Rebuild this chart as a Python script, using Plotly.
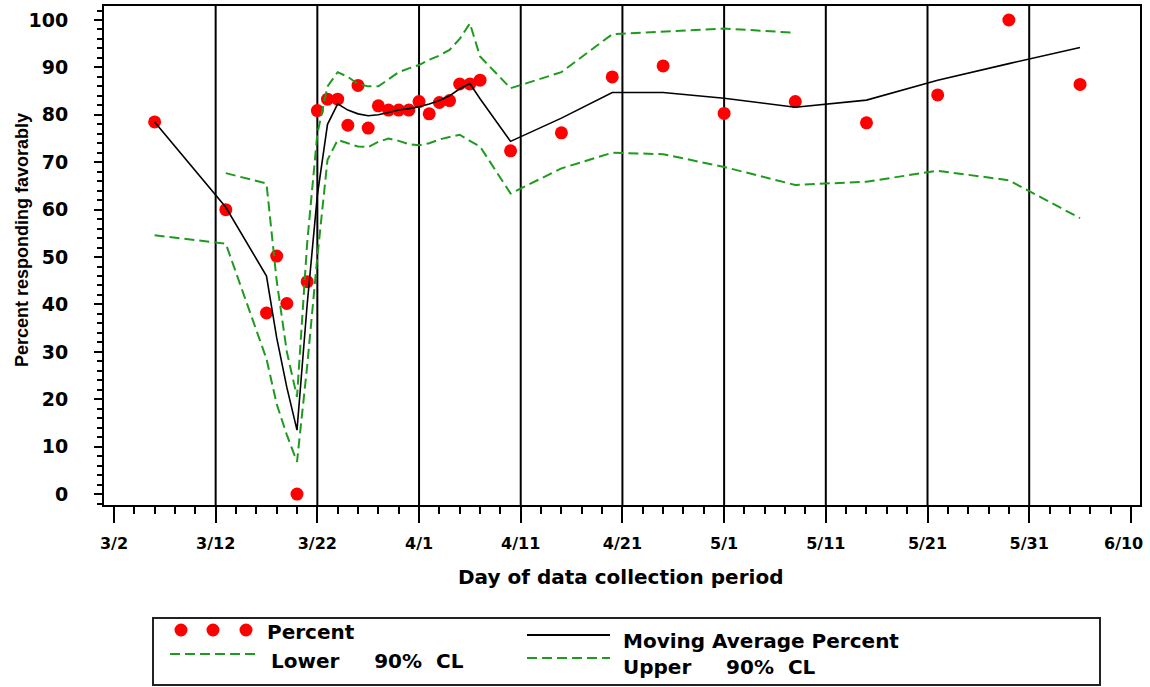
import plotly.graph_objects as go

YEAR = 2003

# ---------------- data ----------------
obs_days = ["3/6", "3/13", "3/17", "3/18", "3/19", "3/20", "3/21", "3/22", "3/23", "3/24",
            "3/25", "3/26", "3/27", "3/28", "3/29", "3/30", "3/31", "4/1", "4/2", "4/3",
            "4/4", "4/5", "4/6", "4/7", "4/10", "4/15", "4/20", "4/25", "5/1", "5/8",
            "5/15", "5/22", "5/29", "6/5"]

percent = [78.5, 60.0, 38.2, 50.2, 40.2, 0.0, 44.8, 80.9, 83.3, 83.3,
           77.8, 86.2, 77.2, 81.9, 81.0, 81.0, 81.0, 82.8, 80.2, 82.6,
           83.0, 86.5, 86.5, 87.3, 72.4, 76.2, 88.0, 90.3, 80.3, 82.8,
           78.3, 84.2, 100.0, 86.4]

moving_avg = [78.5, 60.5, 46.0, 33.0, 22.5, 13.5, 40.0, 63.0, 78.0, 82.3,
              81.0, 80.2, 79.8, 80.0, 80.5, 81.0, 81.3, 81.7, 82.3, 83.0,
              84.0, 85.5, 86.6, 83.4, 74.4, 79.3, 84.7, 84.7, 83.5, 81.6,
              83.1, 87.3, 90.8, 94.2]

upper_cl = [None, 67.7, 65.5, 45.0, 30.0, 20.5, 53.0, 76.0, 86.0, 89.0,
            88.0, 86.5, 86.0, 86.0, 87.5, 89.0, 89.8, 90.5, 91.6, 92.5,
            93.7, 96.0, 99.3, 92.3, 85.6, 89.0, 97.0, 97.5, 98.2, 97.3,
            None, None, None, None]

lower_cl = [54.6, 52.8, 28.5, 19.0, 12.5, 6.8, 27.0, 50.0, 70.5, 74.7,
            74.0, 73.3, 73.2, 74.3, 75.0, 74.5, 73.8, 73.6, 74.0, 74.8,
            75.3, 75.8, 74.5, 73.3, 63.4, 68.7, 72.0, 71.7, 69.0, 65.2,
            65.9, 68.2, 66.2, 58.2]

x_tick_labels = ["3/2", "3/12", "3/22", "4/1", "4/11", "4/21", "5/1", "5/11", "5/21", "5/31", "6/10"]
ref_line_days = ["3/12", "3/22", "4/1", "4/11", "4/21", "5/1", "5/11", "5/21", "5/31"]
y_ticks = [0, 10, 20, 30, 40, 50, 60, 70, 80, 90, 100]


def iso(md):
    m, d = md.split("/")
    return f"{YEAR}-{int(m):02d}-{int(d):02d}"


x = [iso(s) for s in obs_days]

GREEN = "#1e9a1e"
RED = "#ff0000"
DASH = "10px,5px"
NB = "\u00a0"

W, H = 1150, 687
L, R, T, B = 104, 10, 6, 182
PW, PH = W - L - R, H - T - B


def px_x(p):
    return (p - L) / PW


def px_y(p):
    return (H - B - p) / PH


# the last label is drawn as an annotation nudged left (as in the reference),
# so that it stays inside the page
x_tick_text = list(x_tick_labels)
x_tick_text[-1] = ""

fig = go.Figure()

fig.add_trace(go.Scatter(x=x, y=percent, mode="markers", name="Percent",
                         marker=dict(color=RED, size=13, line=dict(width=0))))
fig.add_trace(go.Scatter(x=x, y=lower_cl, mode="lines", name="Lower 90% CL",
                         line=dict(color=GREEN, width=2, dash=DASH), connectgaps=False))
fig.add_trace(go.Scatter(x=x, y=upper_cl, mode="lines", name="Upper 90% CL",
                         line=dict(color=GREEN, width=2, dash=DASH), connectgaps=False))
fig.add_trace(go.Scatter(x=x, y=moving_avg, mode="lines", name="Moving Average Percent",
                         line=dict(color="black", width=1.6)))

for d in ref_line_days:
    fig.add_vline(x=iso(d), line=dict(color="black", width=2), layer="below")

tick_font = dict(family="DejaVu Sans", size=16, color="black", weight="bold")

fig.update_xaxes(
    type="date",
    range=[f"{YEAR}-03-01 00:30", f"{YEAR}-06-10 21:30"],
    tickmode="array",
    tickvals=[iso(s) for s in x_tick_labels],
    ticktext=x_tick_text,
    ticks="outside", ticklen=16, tickwidth=2, tickcolor="black",
    minor=dict(ticks="outside", ticklen=7, tickwidth=2, tickcolor="black",
               dtick=2 * 86400000, tick0=f"{YEAR}-03-02"),
    showgrid=False, zeroline=False,
    showline=True, linecolor="black", linewidth=2, mirror=True,
    tickfont=tick_font, ticklabelstandoff=7, ticklabeloverflow="allow",
    automargin=False,
)

fig.update_yaxes(
    range=[-2.3, 102.95],
    tickmode="array", tickvals=y_ticks, ticktext=[str(v) for v in y_ticks],
    ticks="outside", ticklen=8, tickwidth=2, tickcolor="black",
    minor=dict(ticks="outside", ticklen=5, tickwidth=1.5, tickcolor="black", dtick=2, tick0=0),
    showgrid=False, zeroline=False,
    showline=True, linecolor="black", linewidth=2, mirror=True,
    tickfont=dict(family="DejaVu Sans", size=19, color="black", weight="bold"),
    ticklabelstandoff=22, automargin=False,
)

annotations = [
    dict(text=x_tick_labels[-1], xref="x", yref="paper",
         x=iso(x_tick_labels[-1]), y=px_y(543), xshift=-7, showarrow=False,
         xanchor="center", yanchor="middle", font=tick_font),
    dict(text="Percent responding favorably", xref="paper", yref="paper",
         x=px_x(22), y=px_y(240), textangle=-90, showarrow=False,
         xanchor="center", yanchor="middle",
         font=dict(family="Liberation Sans", size=18, color="black", weight="bold")),
    dict(text="Day of data collection period", xref="paper", yref="paper",
         x=px_x(620), y=px_y(577), showarrow=False, xanchor="center", yanchor="middle",
         font=dict(family="DejaVu Sans", size=20, color="black", weight="bold")),
]

leg_font = dict(family="DejaVu Sans", size=20, color="black", weight="bold")
legend_texts = [
    ("Percent", 266, 632),
    ("Lower" + NB * 5 + "90%" + NB * 2 + "CL", 270, 661),
    ("Moving Average Percent", 622, 641),
    ("Upper" + NB * 5 + "90%" + NB * 2 + "CL", 622, 667),
]
for txt, lx, ly in legend_texts:
    annotations.append(dict(text=txt, xref="paper", yref="paper", x=px_x(lx), y=px_y(ly),
                            showarrow=False, xanchor="left", yanchor="middle",
                            font=leg_font, borderpad=0))

shapes = [
    # legend frame
    dict(type="rect", xref="paper", yref="paper",
         x0=px_x(153), x1=px_x(1100), y0=px_y(618), y1=px_y(685),
         line=dict(color="#222222", width=2), fillcolor="rgba(0,0,0,0)"),
    # lower CL sample
    dict(type="line", xref="paper", yref="paper",
         x0=px_x(170), x1=px_x(257), y0=px_y(654), y1=px_y(654),
         line=dict(color=GREEN, width=2, dash=DASH)),
    # moving average sample
    dict(type="line", xref="paper", yref="paper",
         x0=px_x(527), x1=px_x(610), y0=px_y(635), y1=px_y(635),
         line=dict(color="black", width=2)),
    # upper CL sample
    dict(type="line", xref="paper", yref="paper",
         x0=px_x(527), x1=px_x(610), y0=px_y(658), y1=px_y(658),
         line=dict(color=GREEN, width=2, dash=DASH)),
]
for cx in (181, 213, 246):
    shapes.append(dict(type="circle", xref="paper", yref="paper",
                       xsizemode="pixel", ysizemode="pixel",
                       xanchor=px_x(cx), yanchor=px_y(630),
                       x0=-6.5, x1=6.5, y0=-6.5, y1=6.5,
                       fillcolor=RED, line=dict(width=0)))

fig.update_layout(
    width=W, height=H,
    margin=dict(l=L, r=R, t=T, b=B, pad=0, autoexpand=False),
    paper_bgcolor="white", plot_bgcolor="white",
    showlegend=False,
    annotations=annotations,
)
for s in shapes:
    fig.add_shape(**s)

fig.write_html("out.html")
